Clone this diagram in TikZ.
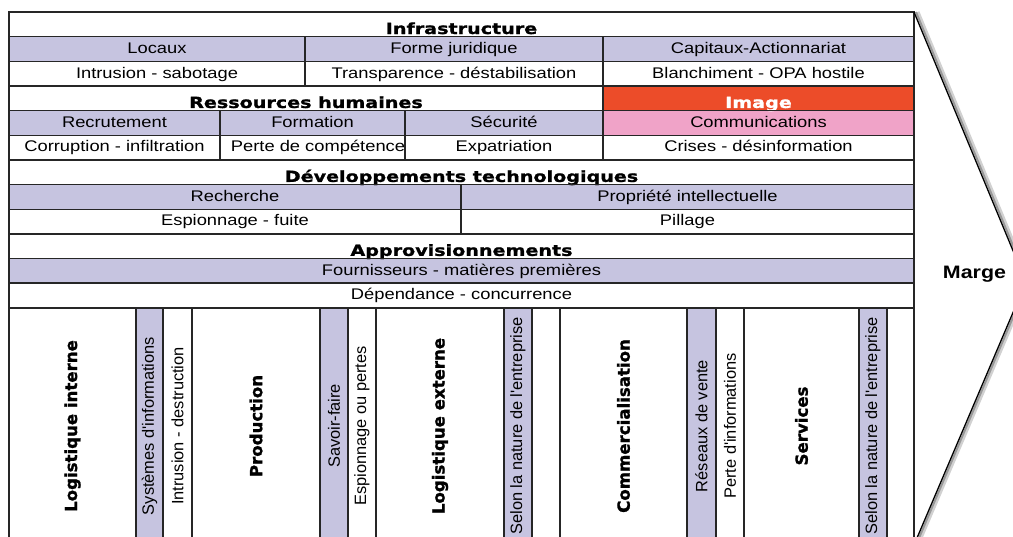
\documentclass[tikz,border=0pt]{standalone}
\usepackage{fontspec}
\setmainfont{Liberation Sans}
\newfontfamily\rowfont[FakeStretch=1.19]{Liberation Sans}
\newfontfamily\headfont[FakeStretch=1.25,FakeBold=1.3]{DejaVu Sans}
\newfontfamily\colfont{Liberation Sans}
\newfontfamily\colheadfont[FakeBold=1.3]{DejaVu Sans}
\definecolor{lav}{RGB}{198,196,224}
\definecolor{imgred}{RGB}{236,76,41}
\definecolor{imgpink}{RGB}{240,163,200}
\tikzset{
  rowtext/.style={anchor=base,inner sep=0pt,font=\rowfont\fontsize{15.4}{18}\selectfont},
  headtext/.style={anchor=base,inner sep=0pt,font=\headfont\bfseries\fontsize{15.3}{18}\selectfont},
  coltext/.style={rotate=90,inner sep=0pt,font=\colfont\fontsize{16.4}{19}\selectfont},
  colhead/.style={rotate=90,inner sep=0pt,font=\colheadfont\bfseries\fontsize{16.6}{19}\selectfont},
  grid/.style={line width=1.4pt,draw=black!85}
}
\begin{document}
\begin{tikzpicture}[x=1pt,y=-1pt]
\useasboundingbox (0,0) rectangle (1013,536);
\clip (0,0) rectangle (1013,536);
% coloured cells
\fill[lav] (9,36.65) rectangle (914,61.3);
\fill[lav] (9,110.6) rectangle (603,135.25);
\fill[lav] (9,184.55) rectangle (914,209.2);
\fill[lav] (9,258.5) rectangle (914,283.15);
\fill[imgred] (603,85.95) rectangle (914,110.6);
\fill[imgpink] (603,110.6) rectangle (914,135.25);
\foreach \a/\b in {136/163,320/348,504/532,687/716,859/887}
  \fill[lav] (\a,307.8) rectangle (\b,545);
% support activities
\node[headtext] (infra) at (461.5,34) {Infrastructure};
\node[rowtext] (locaux) at (157,53.35) {Locaux};
\node[rowtext] (forme) at (454,53.35) {Forme juridique};
\node[rowtext] (capitaux) at (758.5,53.35) {Capitaux-Actionnariat};
\node[rowtext] (intrusion) at (157,78) {Intrusion - sabotage};
\node[rowtext] (transp) at (454,78) {Transparence - déstabilisation};
\node[rowtext] (blanch) at (758.5,78) {Blanchiment - OPA hostile};
\node[headtext] (rh) at (306,107.95) {Ressources humaines};
\node[headtext,text=white] (image) at (758.5,107.95) {Image};
\node[rowtext] (recrut) at (114.5,127.3) {Recrutement};
\node[rowtext] (formation) at (312.5,127.3) {Formation};
\node[rowtext] (secu) at (504,127.3) {Sécurité};
\node[rowtext] (comm) at (758.5,127.3) {Communications};
\node[rowtext] (corrupt) at (114.5,151.95) {Corruption - infiltration};
\node[rowtext] (perte) at (318,151.95) {Perte de compétence};
\node[rowtext] (expat) at (504,151.95) {Expatriation};
\node[rowtext] (crises) at (758.5,151.95) {Crises - désinformation};
\node[headtext] (dev) at (461.5,181.9) {Développements technologiques};
\node[rowtext] (recherche) at (235,201.25) {Recherche};
\node[rowtext] (propriete) at (687.5,201.25) {Propriété intellectuelle};
\node[rowtext] (espion) at (235,225.9) {Espionnage - fuite};
\node[rowtext] (pillage) at (687.5,225.9) {Pillage};
\node[headtext] (appro) at (461.5,255.85) {Approvisionnements};
\node[rowtext] (fourn) at (461.5,275.2) {Fournisseurs - matières premières};
\node[rowtext] (depend) at (461.5,299.85) {Dépendance - concurrence};
% primary activities
\node[colhead] (login) at (72.5,426) {Logistique interne};
\node[coltext] (sysinfo) at (149.5,426) {Systèmes d'informations};
\node[coltext] (destr) at (177.5,426) {Intrusion - destruction};
\node[colhead] (prod) at (256,426) {Production};
\node[coltext] (savoir) at (334,426) {Savoir-faire};
\node[coltext] (pertes) at (362,426) {Espionnage ou pertes};
\node[colhead] (logext) at (440,426) {Logistique externe};
\node[coltext] (selonA) at (518,426) {Selon la nature de l'entreprise};
\node[colhead] (commerc) at (623.5,426) {Commercialisation};
\node[coltext] (reseaux) at (701.5,426) {Réseaux de vente};
\node[coltext] (perteinf) at (730,426) {Perte d'informations};
\node[colhead] (services) at (801.5,426) {Services};
\node[coltext] (selonB) at (873,426) {Selon la nature de l'entreprise};
% grid
\draw[grid] (9,12) rectangle (914,545);
\foreach \y in {36.65,61.3,85.95,110.6,135.25,159.9,184.55,209.2,233.85,258.5,283.15,307.8}
  \draw[grid] (9,\y) -- (914,\y);
\draw[grid] (305,36.65) -- (305,85.95) (603,36.65) -- (603,159.9)
  (220,110.6) -- (220,159.9) (405,110.6) -- (405,159.9);
\draw[grid] (461,184.55) -- (461,233.85);
\foreach \x in {136,163,192,320,348,376,504,532,560,687,716,744,859,887}
  \draw[grid] (\x,307.8) -- (\x,545);
% margin arrow
\coordinate (top) at (914,12);
\coordinate (tip) at (1026,282);
\coordinate (foot) at (914,545);
\draw[black!18,line width=4pt] ([shift={(3.5,0)}]top) -- ([shift={(3.5,0)}]tip) -- ([shift={(3.5,0)}]foot);
\draw[black!40,line width=2pt] ([shift={(2,0)}]top) -- ([shift={(2,0)}]tip) -- ([shift={(2,0)}]foot);
\draw[line width=1.3pt] (top) -- (tip) -- (foot);
\node[anchor=base,inner sep=0pt,font=\rowfont\bfseries\fontsize{18}{20}\selectfont] (marge) at (974.5,278.7) {Marge};
\end{tikzpicture}
\end{document}
